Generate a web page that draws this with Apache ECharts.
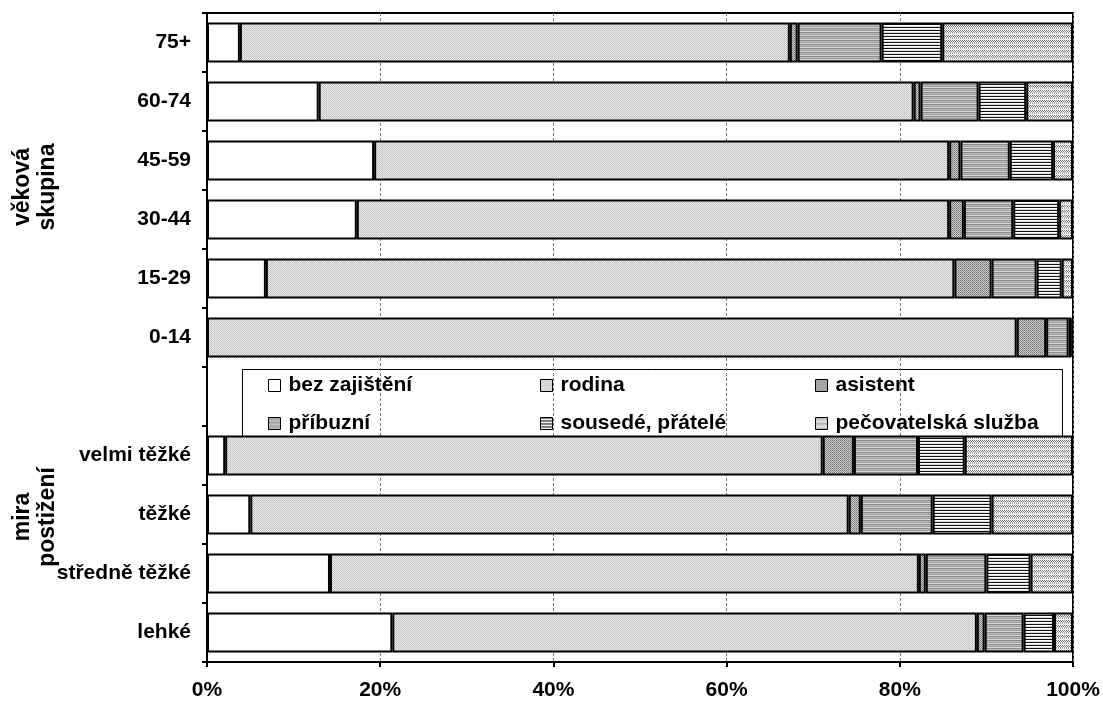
<!DOCTYPE html>
<html><head><meta charset="utf-8">
<script src="https://cdn.jsdelivr.net/npm/echarts@6/dist/echarts.min.js"></script>
<style>html,body{margin:0;padding:0;background:#fff}#c{width:1103px;height:704px}</style>
</head><body><div id="c"></div>
<script>
const categories = ['75+','60-74','45-59','30-44','15-29','0-14','','velmi těžké','těžké','středně těžké','lehké'];
const seriesNames = ['bez zajištění','rodina','asistent','příbuzní','sousedé, přátelé','pečovatelská služba'];
const bezZajisteni = [3.8,12.9,19.3,17.3,6.8,0,null,2.1,5.0,14.2,21.4];
const rodina       = [63.5,68.7,66.4,68.4,79.5,93.5,null,69.0,69.1,68.0,67.5];
const asistent     = [0.9,0.8,1.3,1.7,4.3,3.4,null,3.6,1.4,0.8,0.9];
const pribuzni     = [9.7,6.7,5.7,5.7,5.2,2.6,null,7.4,8.3,7.0,4.5];
const sousede      = [7.0,5.5,5.0,5.3,2.9,0.3,null,5.4,6.8,5.1,3.5];
const pecovatelska = [15.1,5.4,2.3,1.6,1.3,0.2,null,12.5,9.4,4.9,2.2];
const xTicks = [0,20,40,60,80,100];
const values = [bezZajisteni,rodina,asistent,pribuzni,sousede,pecovatelska];

function pat(w,h,draw){const c=document.createElement('canvas');c.width=w;c.height=h;const g=c.getContext('2d');draw(g);return {image:c,repeat:'repeat'};}
function px(g,x,y,col){g.fillStyle=col;g.fillRect(x,y,1,1);}
const fills = [
  '#ffffff',
  pat(2,2,g=>{g.fillStyle='#ececec';g.fillRect(0,0,2,2);px(g,0,0,'#bdbdbd');px(g,1,1,'#c8c8c8');}),
  pat(2,2,g=>{g.fillStyle='#d0d0d0';g.fillRect(0,0,2,2);px(g,0,0,'#707070');px(g,1,1,'#8a8a8a');}),
  pat(1,4,g=>{px(g,0,0,'#8c8c8c');px(g,0,1,'#bcbcbc');px(g,0,2,'#9c9c9c');px(g,0,3,'#d8d8d8');}),
  pat(1,3,g=>{px(g,0,0,'#111111');px(g,0,1,'#ffffff');px(g,0,2,'#e0e0e0');}),
  pat(4,5,g=>{g.fillStyle='#ffffff';g.fillRect(0,0,4,5);
    px(g,0,0,'#707070');px(g,2,0,'#707070');px(g,1,1,'#707070');px(g,3,1,'#707070');
    px(g,0,2,'#a0a0a0');px(g,2,2,'#a0a0a0');px(g,0,3,'#a8a8a8');px(g,2,3,'#a8a8a8');px(g,1,4,'#e0e0e0');px(g,3,4,'#e0e0e0');})
];
const FONT = "'Liberation Sans', Arial, sans-serif";
const series = seriesNames.map((n,i)=>({
  name:n, type:'bar', stack:'t', barWidth:40,
  data: values[i],
  itemStyle:{color:fills[i], borderColor:'#000', borderWidth:2},
  emphasis:{disabled:true}
}));
function legend(names,left){
  return {data:names, orient:'vertical', left:left, top:375, padding:0, itemGap:17, itemWidth:12, itemHeight:12,
    icon:'rect', itemStyle:{borderColor:'#000',borderWidth:1},
    textStyle:{fontFamily:FONT, fontWeight:'bold', fontSize:21, color:'#000', padding:[0,0,0,3]}};
}
const chart = echarts.init(document.getElementById('c'), null, {renderer:'canvas'});
chart.setOption({
  animation:false,
  grid:{left:207, right:30, top:13, bottom:42, show:true, borderColor:'#000', borderWidth:2},
  xAxis:{type:'value', min:0, max:100, interval:20,
    axisLine:{show:true, lineStyle:{color:'#000', width:2}},
    axisTick:{show:true, length:5, lineStyle:{color:'#000', width:2}},
    splitLine:{show:true, lineStyle:{color:'#777', type:[3,2], width:1}},
    axisLabel:{formatter:v=>v+'%', margin:18, fontFamily:FONT, fontWeight:'bold', fontSize:21, color:'#000'}},
  yAxis:{type:'category', data:categories, inverse:true,
    axisLine:{show:true, lineStyle:{color:'#000', width:2}},
    axisTick:{show:true, length:5, lineStyle:{color:'#000', width:2}},
    axisLabel:{margin:16, fontFamily:FONT, fontWeight:'bold', fontSize:21, color:'#000'}},
  legend:[legend([seriesNames[0],seriesNames[3]],268),legend([seriesNames[1],seriesNames[4]],540),legend([seriesNames[2],seriesNames[5]],815)],
  graphic:[
    {type:'rect', shape:{x:242.5,y:369.5,width:820,height:68}, style:{fill:'#fff',stroke:'#000',lineWidth:1}, z:-1, silent:true},
    {type:'text', x:35, y:187, rotation:Math.PI/2, style:{text:'věková\nskupina', font:"bold 23px "+FONT, fill:'#000', textAlign:'center', textVerticalAlign:'middle', lineHeight:25}},
    {type:'text', x:35, y:517, rotation:Math.PI/2, style:{text:'mira\npostižení', font:"bold 23px "+FONT, fill:'#000', textAlign:'center', textVerticalAlign:'middle', lineHeight:25}}
  ],
  series:series
});
</script></body></html>
